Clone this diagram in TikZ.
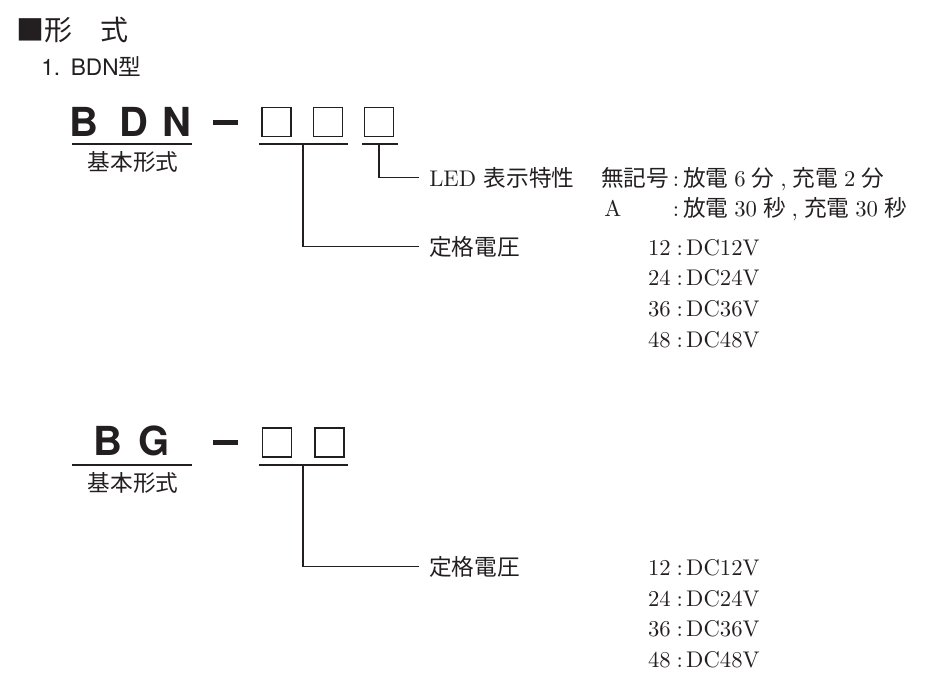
\documentclass[tikz,border=0pt]{standalone}
\usepackage{fontspec}
\usepackage{tikz}
\usetikzlibrary{positioning,calc}
\newfontfamily\cjk{Noto Sans CJK JP}
\newfontfamily\heros{TeX Gyre Heros}
\newfontfamily\lmten{lmroman10-regular.otf}
\definecolor{inkgray}{RGB}{35,31,32}
\newcommand\tightsp{\spaceskip 4.5pt\relax}

\tikzset{
  lbl/.style={inner sep=0pt, text=inkgray, font=\lmten\fontsize{17}{20}\selectfont},
  big/.style={inner sep=0pt, text=inkgray, font=\heros\bfseries\fontsize{30}{30}\selectfont},
  slot/.style={draw=inkgray, line width=1pt, minimum size=21.75pt, inner sep=0pt},
  rule/.style={draw=inkgray, line width=1pt},
  lead/.style={draw=inkgray, line width=0.8pt, shorten >=7.5pt}
}

\begin{document}
\begin{tikzpicture}[x=0.75pt, y=-0.75pt]
        \useasboundingbox (0,0) rectangle (935,682);
        \node[inner sep=0pt, anchor=base west, text=inkgray, font=\cjk\fontsize{21}{24}\selectfont] (title) at (16,40) {■形　式};
        \node[inner sep=0pt, anchor=base west, text=inkgray, font=\heros\fontsize{17}{20}\selectfont] (sub) at (41,75) {1.\hspace{8pt}BDN{\cjk 型}};

        \node[big, anchor=base] (bB) at (84,136) {B};
        \node[big, anchor=base] (bD) at (133.5,136) {D};
        \node[big, anchor=base] (bN) at (177,136) {N};
        \fill[inkgray] (213,119.5) rectangle (238,124.5);
        \node[slot] (s1) at (276.5,122) {};
        \node[slot] (s2) at (328,122) {};
        \node[slot] (s3) at (379,122) {};
        \draw[rule] (72,144) -- (192,144);
        \draw[rule] (259,144) -- (348,144);
        \draw[rule] (362,144) -- (398,144);
        \node[lbl, anchor=base, font=\cjk\fontsize{17}{20}\selectfont] (base1) at (133,170) {基本形式};
        \coordinate (j12) at (303,144);
        \coordinate (j3) at (379,144);

        \node[lbl, anchor=base west] (led) at (429,186) {LED {\cjk 表示特性}};
        \node[lbl, anchor=base west, font=\cjk\fontsize{17}{20}\selectfont] (k0) at (601,186) {無記号};
        \node[lbl, anchor=base west, font={\lmten\fontsize{17}{20}\selectfont\tightsp}] (v0) at (672.5,186) {:\hspace{3pt}{\cjk 放電} 6 {\cjk 分} , {\cjk 充電} 2 {\cjk 分}};
        \node[lbl, anchor=base west] (kA) at (604,216.5) {A};
        \node[lbl, anchor=base west, font={\lmten\fontsize{17}{20}\selectfont\tightsp}] (vA) at (672.5,216.5) {:\hspace{3pt}{\cjk 放電} 30 {\cjk 秒} , {\cjk 充電} 30 {\cjk 秒}};
        \node[lbl, anchor=base west, font=\cjk\fontsize{17}{20}\selectfont] (rate1) at (429,255) {定格電圧};
        \foreach \volt [count=\i from 0] in {12,24,36,48} {
          \node[lbl, anchor=base east] (na\volt) at (671,255+30.7*\i) {\volt};
          \node[lbl, anchor=base west] (da\volt) at (671,255+30.7*\i) {\hspace{4pt}:\hspace{2.5pt}DC\volt V};
        }
        \draw[lead] (j3) |- (led.west);
        \draw[lead] (j12) |- (rate1.west);

        \node[big, anchor=base] (gB) at (107.5,455) {B};
        \node[big, anchor=base] (gG) at (154,455) {G};
        \fill[inkgray] (213,439.5) rectangle (238,444.5);
        \node[slot] (t1) at (277,442.5) {};
        \node[slot] (t2) at (329.5,442.5) {};
        \draw[rule] (72,465) -- (192,465);
        \draw[rule] (259,465) -- (348,465);
        \node[lbl, anchor=base, font=\cjk\fontsize{17}{20}\selectfont] (base2) at (133,491) {基本形式};
        \coordinate (jg) at (303,465);

        \node[lbl, anchor=base west, font=\cjk\fontsize{17}{20}\selectfont] (rate2) at (429,575.5) {定格電圧};
        \foreach \volt [count=\i from 0] in {12,24,36,48} {
          \node[lbl, anchor=base east] (nb\volt) at (671,575.5+30.5*\i) {\volt};
          \node[lbl, anchor=base west] (db\volt) at (671,575.5+30.5*\i) {\hspace{4pt}:\hspace{2.5pt}DC\volt V};
        }
        \draw[lead] (jg) |- (rate2.west);
    \end{tikzpicture}
\end{document}
